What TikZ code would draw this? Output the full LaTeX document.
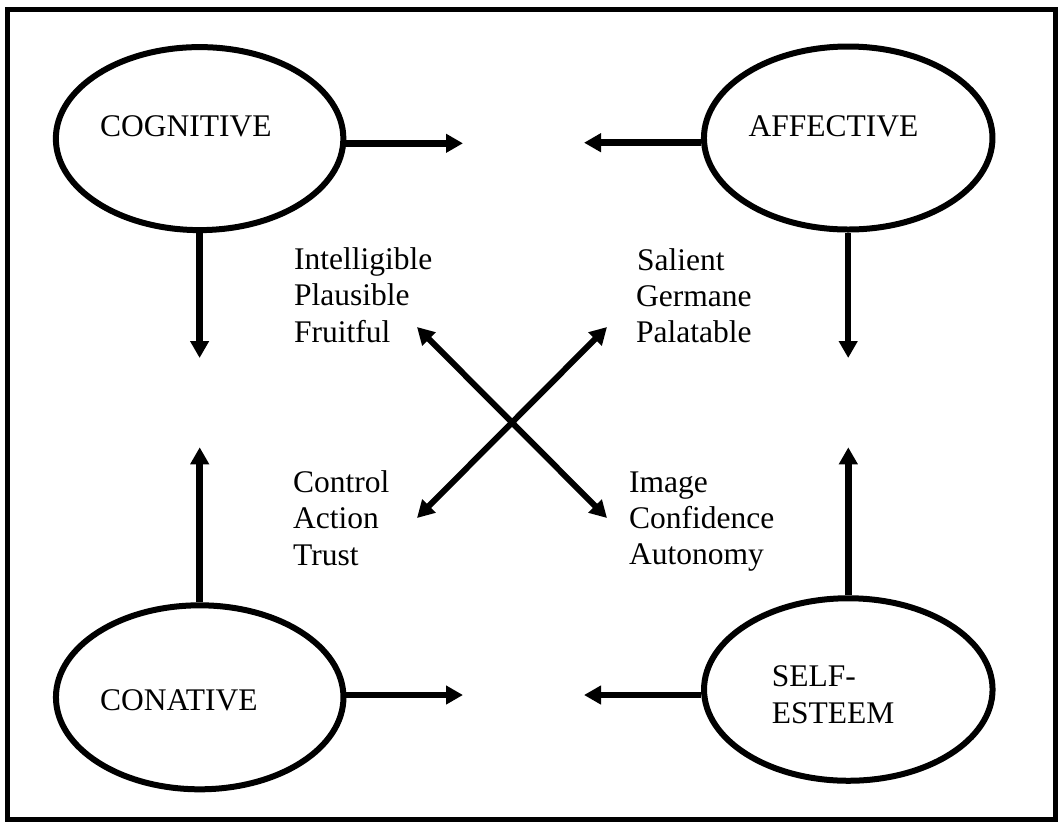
\documentclass[tikz,border=0pt]{standalone}
\usepackage{fontspec}
\setmainfont{Liberation Serif}
\usetikzlibrary{arrows.meta,shapes.geometric}
\begin{document}
\begin{tikzpicture}[x=1pt,y=-1pt,
  frame/.style={line width=5pt},
  bubble/.style={ellipse, draw, line width=6pt, inner sep=0pt},
  word/.style={anchor=base west, inner sep=0pt, font=\fontsize{31.5}{36.5}\selectfont},
  link/.style={line width=6.5pt, -{Triangle[length=17pt,width=18pt]}},
  twoway/.style={line width=6pt, {Triangle[length=17pt,width=18pt]}-{Triangle[length=17pt,width=18pt]}},
]
\useasboundingbox[fill=white] (0,0) rectangle (1064,823);
\draw[frame] (7.5,9.8) rectangle (1055.5,819.2);

% the four domains
\node[bubble, minimum width=287.5pt, minimum height=183pt] (cog)  at (199.6,138.6) {};
\node[bubble, minimum width=288.5pt, minimum height=183pt] (aff)  at (848.2,138)   {};
\node[bubble, minimum width=287.5pt, minimum height=184pt] (con)  at (199.7,697.3) {};
\node[bubble, minimum width=288.5pt, minimum height=182.5pt] (self) at (848.3,689.5) {};

\node[word] (cogt)  at (100,136.7)   {COGNITIVE};
\node[word] (afft)  at (748.3,136.2) {AFFECTIVE};
\node[word] (cont)  at (100,710)     {CONATIVE};
\node[word] (selft) at (771.7,686.7) {SELF-};
\node[word] (estt)  at (771.7,723.3) {ESTEEM};

% free ends of the straight arrows
\coordinate (cogR)  at (463,143.3);
\coordinate (affL)  at (584,142.7);
\coordinate (conR)  at (463,695);
\coordinate (selfL) at (584,695);
\coordinate (cogD)  at (199.5,358);
\coordinate (affD)  at (848,358);
\coordinate (conU)  at (199.5,447.3);
\coordinate (selfU) at (848,447.3);

\draw[link] (cog.east |- cogR) -- (cogR);
\draw[link] (aff.west |- affL) -- (affL);
\draw[link] (con.east |- conR) -- (conR);
\draw[link] (self.west |- selfL) -- (selfL);
\draw[link] (cog.south) -- (cog.south |- cogD);
\draw[link] (aff.south) -- (aff.south |- affD);
\draw[link] (con.north) -- (con.north |- conU);
\draw[link] (self.north) -- (self.north |- selfU);

% crossing double arrows
\coordinate (nw) at (417,327);
\coordinate (se) at (607,518);
\coordinate (ne) at (607,327);
\coordinate (sw) at (417,518);
\draw[twoway] (nw) -- (se);
\draw[twoway] (sw) -- (ne);

% qualities
\node[word] (q1) at (294,269)   {Intelligible};
\node[word] (q2) at (294,305.5) {Plausible};
\node[word] (q3) at (294,342)   {Fruitful};
\node[word] (q4) at (637,270.5) {Salient};
\node[word] (q5) at (636,306)   {Germane};
\node[word] (q6) at (636,342)   {Palatable};
\node[word] (q7) at (293,492)   {Control};
\node[word] (q8) at (293,528)   {Action};
\node[word] (q9) at (293,565)   {Trust};
\node[word] (q10) at (629,492)  {Image};
\node[word] (q11) at (629,528)  {Confidence};
\node[word] (q12) at (629,564)  {Autonomy};
\end{tikzpicture}
\end{document}
